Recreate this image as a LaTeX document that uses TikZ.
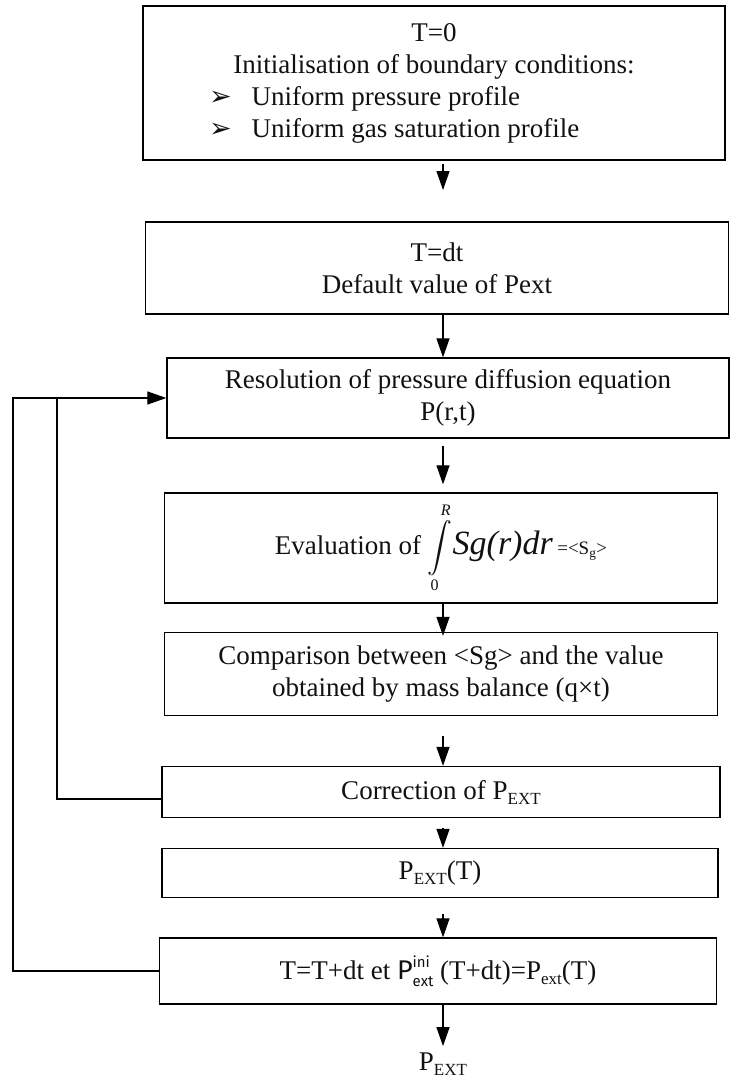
\RequirePackage{fix-cm}
\documentclass[tikz,border=0pt]{standalone}
\usepackage{exscale}
\usepackage{fontspec}
\setmainfont{Liberation Serif}
\newfontfamily\dingfont{DejaVu Sans}
\newfontfamily\handfont{Fira Sans}
\usetikzlibrary{arrows.meta}

\definecolor{fcLine}{HTML}{000000}
\definecolor{fcText}{HTML}{111111}

\newcommand{\bul}{{\dingfont\fontsize{27}{27}\selectfont ➢}}
\newcommand{\sub}[1]{\raisebox{-5pt}{\fontsize{17}{17}\selectfont #1}}
\newcommand{\intlim}[1]{\mbox{\fontsize{16}{16}\selectfont #1}}

\begin{document}
\begin{tikzpicture}[
    x=1pt, y=-1pt,
    every node/.style={font=\fontsize{27}{32}\selectfont, color=fcText},
    box/.style={draw=fcLine, line width=1.3pt, align=center, inner sep=0pt},
    flow/.style={draw=fcLine, line width=1.2pt,
        -{Triangle[length=19pt,width=13pt]}},
    link/.style={draw=fcLine, line width=1.2pt},
]
\useasboundingbox (0,0) rectangle (747,1081);

% ----------------------------------------------------------------------
% Main column (all arrows run down x = 443)
% ----------------------------------------------------------------------
\coordinate (ax)  at (443,0);
\coordinate (inx) at (57,0);
\coordinate (outx) at (13,0);

\node[box, minimum width=582pt, minimum height=154pt] (init) at (434,83)
    {T=0\\
     Initialisation of boundary conditions:\\
     \makebox[450pt][l]{\bul\hspace{20pt}Uniform pressure profile}\\
     \makebox[450pt][l]{\bul\hspace{20pt}Uniform gas saturation profile}};

\node[box, minimum width=583pt, minimum height=92pt] (tdt) at (437,268)
    {T=dt\\Default value of Pext};

\node[box, minimum width=562pt, minimum height=80pt] (resol) at (448,398)
    {Resolution of pressure diffusion equation\\P(r,t)};

\node[box, minimum width=553pt, minimum height=110pt] (evalint) at (441,548)
    {Evaluation of
     $\displaystyle\int\limits_{\intlim{0}}^{\intlim{\itshape R}}$%
     {\fontsize{34}{34}\selectfont\itshape Sg(r)dr}\,%
     {\fontsize{19}{19}\selectfont =<S\textsubscript{g}>}};

\node[box, minimum width=553pt, minimum height=83pt] (compar) at (441,674)
    {Comparison between <Sg> and the value\\
     obtained by mass balance (q×t)};

\node[box, minimum width=558pt, minimum height=51pt] (corr) at (441,792)
    {Correction of P\sub{EXT}};

\node[box, minimum width=556pt, minimum height=49pt] (pextT) at (440,873)
    {P\sub{EXT}(T)};

\node[box, minimum width=557pt, minimum height=66pt] (update) at (438,971)
    {T=T+dt et
     {\handfont P\rlap{\raisebox{12pt}{\fontsize{15}{15}\selectfont ini}}%
     \raisebox{-7pt}{\fontsize{15}{15}\selectfont ext}}\ %
     (T+dt)=P\sub{ext}(T)};

\node (pout) at (443,1064) {P\sub{EXT}};

% ----------------------------------------------------------------------
% Downward arrows
% ----------------------------------------------------------------------
\coordinate (a1end) at (443,190);
\draw[flow, shorten <=3pt] (init.south -| ax) -- (a1end);
\draw[flow] (tdt.south -| ax) -- (resol.north -| ax);
\draw[flow, shorten <=7pt, shorten >=8pt] (resol.south -| ax) -- (evalint.north -| ax);
\draw[flow, shorten >=-4pt] (evalint.south -| ax) -- (compar.north -| ax);
\draw[flow, shorten <=20pt] (compar.south -| ax) -- (corr.north -| ax);
\draw[flow, shorten <=10pt] (corr.south -| ax) -- (pextT.north -| ax);
\draw[flow, shorten <=16pt] (pextT.south -| ax) -- (update.north -| ax);
\draw[flow, shorten >=3pt] (update.south -| ax) -- (pout.north -| ax);

% ----------------------------------------------------------------------
% Feedback loops back into the pressure solve
% ----------------------------------------------------------------------
\draw[flow] ([yshift=-7pt]corr.west) -| (inx |- resol.west) -- (resol.west);
\draw[link] (update.west) -| (outx |- resol.west) -- (inx |- resol.west);

\end{tikzpicture}
\end{document}
